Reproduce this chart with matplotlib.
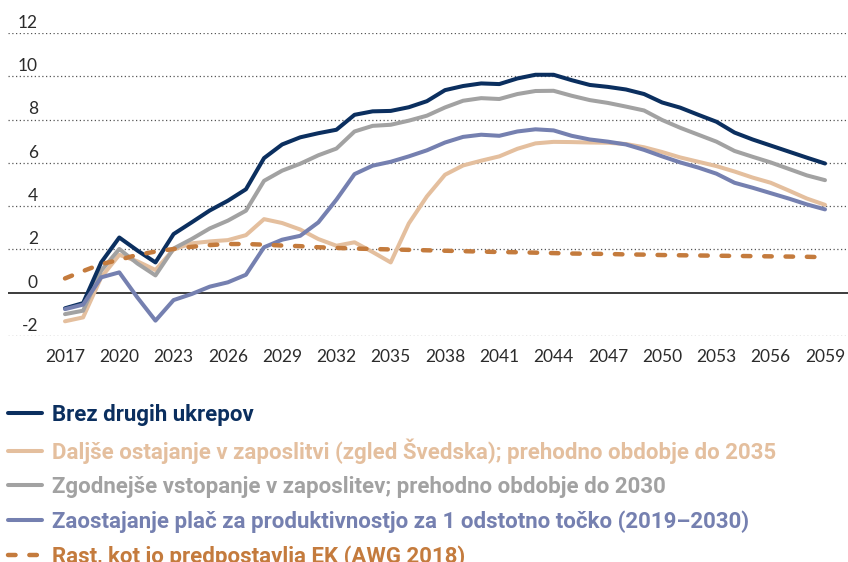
import numpy as np
import matplotlib
matplotlib.use('Agg')
import matplotlib.pyplot as plt
import matplotlib.transforms as mtransforms

# podatki (odčitano s slike)
years = np.arange(2017, 2060)

brez = [-0.72, -0.48, 1.4, 2.55, 1.95, 1.4, 2.71, 3.25, 3.8, 4.25,
        4.78, 6.22, 6.85, 7.18, 7.37, 7.53, 8.22, 8.38, 8.4, 8.57,
        8.85, 9.36, 9.55, 9.67, 9.64, 9.9, 10.07, 10.07, 9.82, 9.6,
        9.51, 9.39, 9.18, 8.79, 8.55, 8.22, 7.9, 7.4, 7.08, 6.8,
        6.52, 6.24, 5.97]
daljse = [-1.32, -1.14, 0.71, 1.75, 1.45, 1.05, 2.0, 2.28, 2.37, 2.43,
          2.66, 3.4, 3.22, 2.92, 2.48, 2.17, 2.33, 1.88, 1.4, 3.2,
          4.45, 5.45, 5.88, 6.1, 6.3, 6.65, 6.9, 6.97, 6.96, 6.94,
          6.93, 6.87, 6.72, 6.5, 6.25, 6.05, 5.85, 5.6, 5.32, 5.08,
          4.72, 4.35, 4.06]
zgodnejse = [-0.99, -0.83, 1.02, 2.02, 1.35, 0.8, 2.04, 2.48, 2.97, 3.33,
             3.79, 5.17, 5.64, 5.96, 6.35, 6.66, 7.45, 7.71, 7.76, 7.95,
             8.18, 8.56, 8.87, 8.99, 8.95, 9.18, 9.32, 9.33, 9.1, 8.9,
             8.77, 8.6, 8.42, 7.98, 7.62, 7.3, 6.98, 6.55, 6.28, 6.02,
             5.72, 5.42, 5.2]
zaostajanje = [-0.76, -0.55, 0.71, 0.94, -0.22, -1.29, -0.34, -0.06, 0.28, 0.48,
               0.83, 2.1, 2.45, 2.63, 3.25, 4.3, 5.48, 5.87, 6.05, 6.3,
               6.58, 6.94, 7.2, 7.3, 7.25, 7.45, 7.55, 7.5, 7.25, 7.08,
               6.98, 6.85, 6.6, 6.3, 6.02, 5.78, 5.5, 5.08, 4.85, 4.6,
               4.35, 4.08, 3.85]
ek = [0.66, 1.0, 1.32, 1.52, 1.75, 1.9, 2.02, 2.12, 2.2, 2.25,
      2.25, 2.22, 2.18, 2.15, 2.1, 2.07, 2.04, 2.02, 2.0, 1.98,
      1.96, 1.94, 1.92, 1.9, 1.88, 1.87, 1.85, 1.83, 1.81, 1.8,
      1.79, 1.77, 1.76, 1.74, 1.73, 1.72, 1.71, 1.7, 1.69, 1.68,
      1.67, 1.66, 1.64]

labels = ['Brez drugih ukrepov',
          'Daljše ostajanje v zaposlitvi (zgled Švedska); prehodno obdobje do 2035',
          'Zgodnejše vstopanje v zaposlitev; prehodno obdobje do 2030',
          'Zaostajanje plač za produktivnostjo za 1 odstotno točko (2019–2030)',
          'Rast, kot jo predpostavlja EK (AWG 2018)']
xtick_years = np.arange(2017, 2060, 3)
ytick_vals = np.arange(-2, 13, 2)

c_navy = '#0b2f5f'
c_tan = '#e4bf9e'
c_gray = '#a2a2a2'
c_blue = '#7580b0'
c_ek = '#c47b3d'

W, H = 848, 562
fig = plt.figure(figsize=(W / 100, H / 100), dpi=100)
ax = fig.add_axes([8 / W, (H - 336) / H, 840 / W, 303 / H])

px_per_year = 760 / 42
ax.set_xlim(2017 - 57 / px_per_year, 2059 + 23 / px_per_year)
ax.set_ylim(-2, 12)

for v in ytick_vals:
    if v == 0:
        continue
    ax.axhline(v, color='#555555', lw=0.9, ls=(0, (1, 2)), zorder=1)
ax.axhline(0, color='#1a1a1a', lw=1.2, zorder=1)

lw = 2.9
kw = dict(solid_capstyle='round', solid_joinstyle='round', clip_on=False)
l_tan, = ax.plot(years, daljse, color=c_tan, lw=lw, zorder=3, **kw)
l_gray, = ax.plot(years, zgodnejse, color=c_gray, lw=lw, zorder=4, **kw)
l_navy, = ax.plot(years, brez, color=c_navy, lw=lw, zorder=5, **kw)
l_blue, = ax.plot(years, zaostajanje, color=c_blue, lw=lw, zorder=6, **kw)
l_ek, = ax.plot(years, ek, color=c_ek, lw=3.2, ls=(0, (1.7, 3.1)),
                dash_capstyle='round', zorder=7, clip_on=False)

for s in ax.spines.values():
    s.set_visible(False)
ax.set_yticks([])
ax.set_xticks(xtick_years)
ax.set_xticklabels([str(y) for y in xtick_years], fontsize=12.5,
                   color='#2b2b2b', family='Lato')
ax.tick_params(axis='x', length=0, pad=9)

# oznake y osi nad mrežnimi črtami
trans = mtransforms.blended_transform_factory(fig.transFigure, ax.transData)
for v in ytick_vals:
    ax.text(38 / W, v + 0.24, str(v), transform=trans, ha='right', va='baseline',
            fontsize=12.5, color='#2b2b2b', family='Lato')

handles = [l_navy, l_tan, l_gray, l_blue, l_ek]
leg = fig.legend(handles, labels, loc='upper left',
                 bbox_to_anchor=(8 / W, 1 - 404 / H), frameon=False,
                 borderpad=0, borderaxespad=0, handlelength=1.53,
                 handletextpad=0.45, labelspacing=0.55,
                 prop={'family': 'Roboto', 'weight': 'bold', 'size': 16},
                 labelcolor='linecolor')

fig.savefig('out.png', dpi=100)
